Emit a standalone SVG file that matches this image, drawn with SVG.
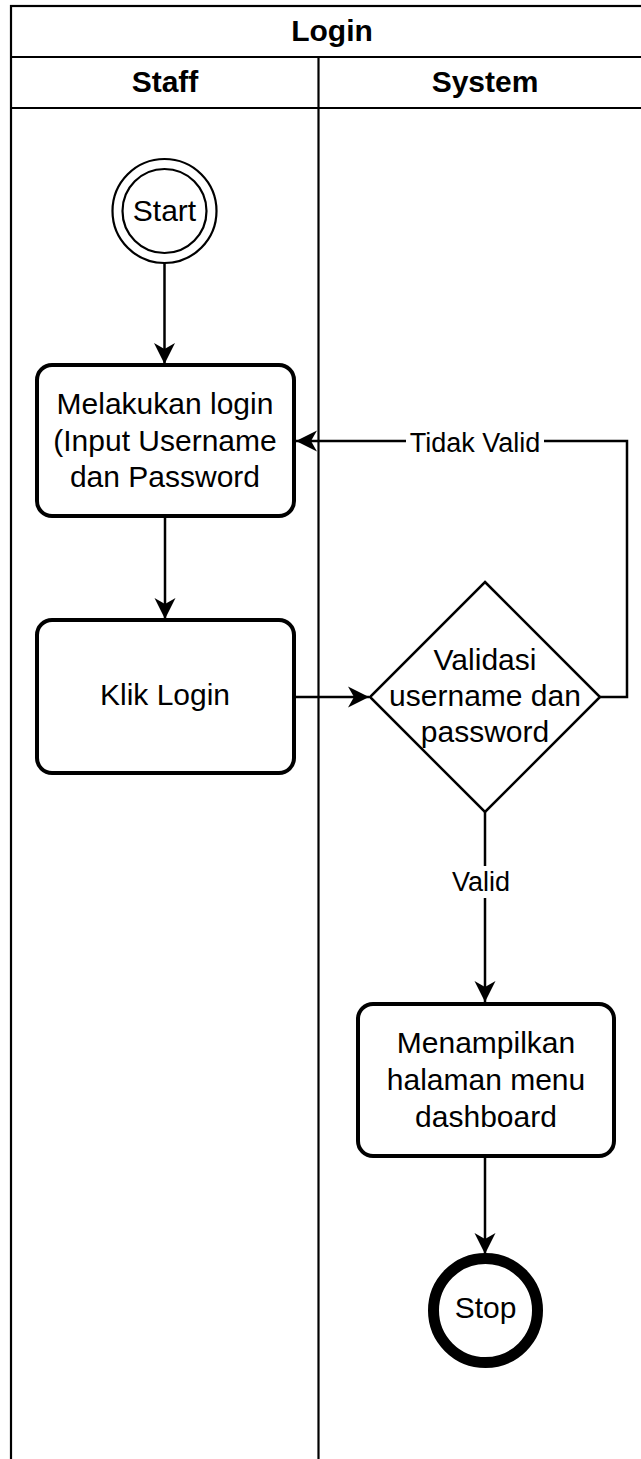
<svg xmlns="http://www.w3.org/2000/svg" width="641" height="1459" viewBox="0 0 641 1459">
  <style>
    .lane { fill: none; stroke: #000; stroke-width: 2.2; }
    .act { fill: #fff; stroke: #000; stroke-width: 4; }
    .dec { fill: #fff; stroke: #000; stroke-width: 2.5; }
    .edge { fill: none; stroke: #000; stroke-width: 2.5; }
    .txt { font-family: "Liberation Sans", Arial, sans-serif; font-size: 30px; fill: #000; text-anchor: middle; }
    .hdr { font-family: "Liberation Sans", Arial, sans-serif; font-size: 30px; font-weight: bold; fill: #000; text-anchor: middle; }
    .lbl { font-family: "Liberation Sans", Arial, sans-serif; font-size: 27px; fill: #000; text-anchor: middle; }
  </style>
  <defs>
    <marker id="arrow" markerUnits="userSpaceOnUse" viewBox="-22 -11 24 22" refX="0" refY="0" markerWidth="24" markerHeight="22" orient="auto">
      <path d="M0,0 L-21,-10.5 L-15,0 L-21,10.5 Z" fill="#000"/>
    </marker>
  </defs>
  <rect x="0" y="0" width="641" height="1459" fill="#fff"/>

  <g id="pool">
    <rect class="lane" x="11" y="6" width="680" height="1500"/>
    <line class="lane" x1="11" y1="57" x2="691" y2="57"/>
    <line class="lane" x1="11" y1="108" x2="691" y2="108"/>
    <line class="lane" x1="318.5" y1="57" x2="318.5" y2="1506"/>
    <text class="hdr" x="332" y="41">Login</text>
  </g>
  <g id="lane-staff">
    <text class="hdr" x="165" y="92">Staff</text>
  </g>
  <g id="lane-system">
    <text class="hdr" x="485" y="92">System</text>
  </g>

  <g id="connectors">
    <line class="edge" x1="164.5" y1="263" x2="164.5" y2="364" marker-end="url(#arrow)"/>
    <line class="edge" x1="165" y1="517" x2="165" y2="619" marker-end="url(#arrow)"/>
    <line class="edge" x1="295" y1="697" x2="369" y2="697" marker-end="url(#arrow)"/>
    <polyline class="edge" points="600,697 627,697 627,441 296,441" marker-end="url(#arrow)"/>
    <line class="edge" x1="485" y1="812" x2="485" y2="1002" marker-end="url(#arrow)"/>
    <line class="edge" x1="485" y1="1157" x2="485" y2="1254" marker-end="url(#arrow)"/>
    <rect x="406" y="429" width="138" height="30" fill="#fff"/>
    <text class="lbl" x="475" y="452">Tidak Valid</text>
    <rect x="450" y="866" width="62" height="32" fill="#fff"/>
    <text class="lbl" x="481" y="891">Valid</text>
  </g>

  <g id="start">
    <circle cx="164.5" cy="211" r="52" fill="#fff" stroke="#000" stroke-width="2.2"/>
    <circle cx="164.5" cy="211" r="42" fill="none" stroke="#000" stroke-width="2.2"/>
    <text class="txt" x="164.5" y="221">Start</text>
  </g>

  <g id="melakukan-login">
    <rect class="act" x="37" y="365" width="257" height="151" rx="15" ry="15"/>
    <text class="txt" x="165" y="414">Melakukan login</text>
    <text class="txt" x="165" y="450.5">(Input Username</text>
    <text class="txt" x="165" y="487">dan Password</text>
  </g>

  <g id="klik-login">
    <rect class="act" x="37" y="620" width="257" height="153" rx="15" ry="15"/>
    <text class="txt" x="165" y="705">Klik Login</text>
  </g>

  <g id="validasi">
    <polygon class="dec" points="485,582 600,697 485,812 370,697"/>
    <text class="txt" x="485" y="670">Validasi</text>
    <text class="txt" x="485" y="706">username dan</text>
    <text class="txt" x="485" y="742">password</text>
  </g>

  <g id="menampilkan">
    <rect class="act" x="358" y="1004" width="256" height="152" rx="15" ry="15"/>
    <text class="txt" x="486" y="1053">Menampilkan</text>
    <text class="txt" x="486" y="1090">halaman menu</text>
    <text class="txt" x="486" y="1127">dashboard</text>
  </g>

  <g id="stop">
    <circle cx="485.5" cy="1310.5" r="52" fill="#fff" stroke="#000" stroke-width="11"/>
    <text class="txt" x="485.5" y="1318">Stop</text>
  </g>
</svg>
